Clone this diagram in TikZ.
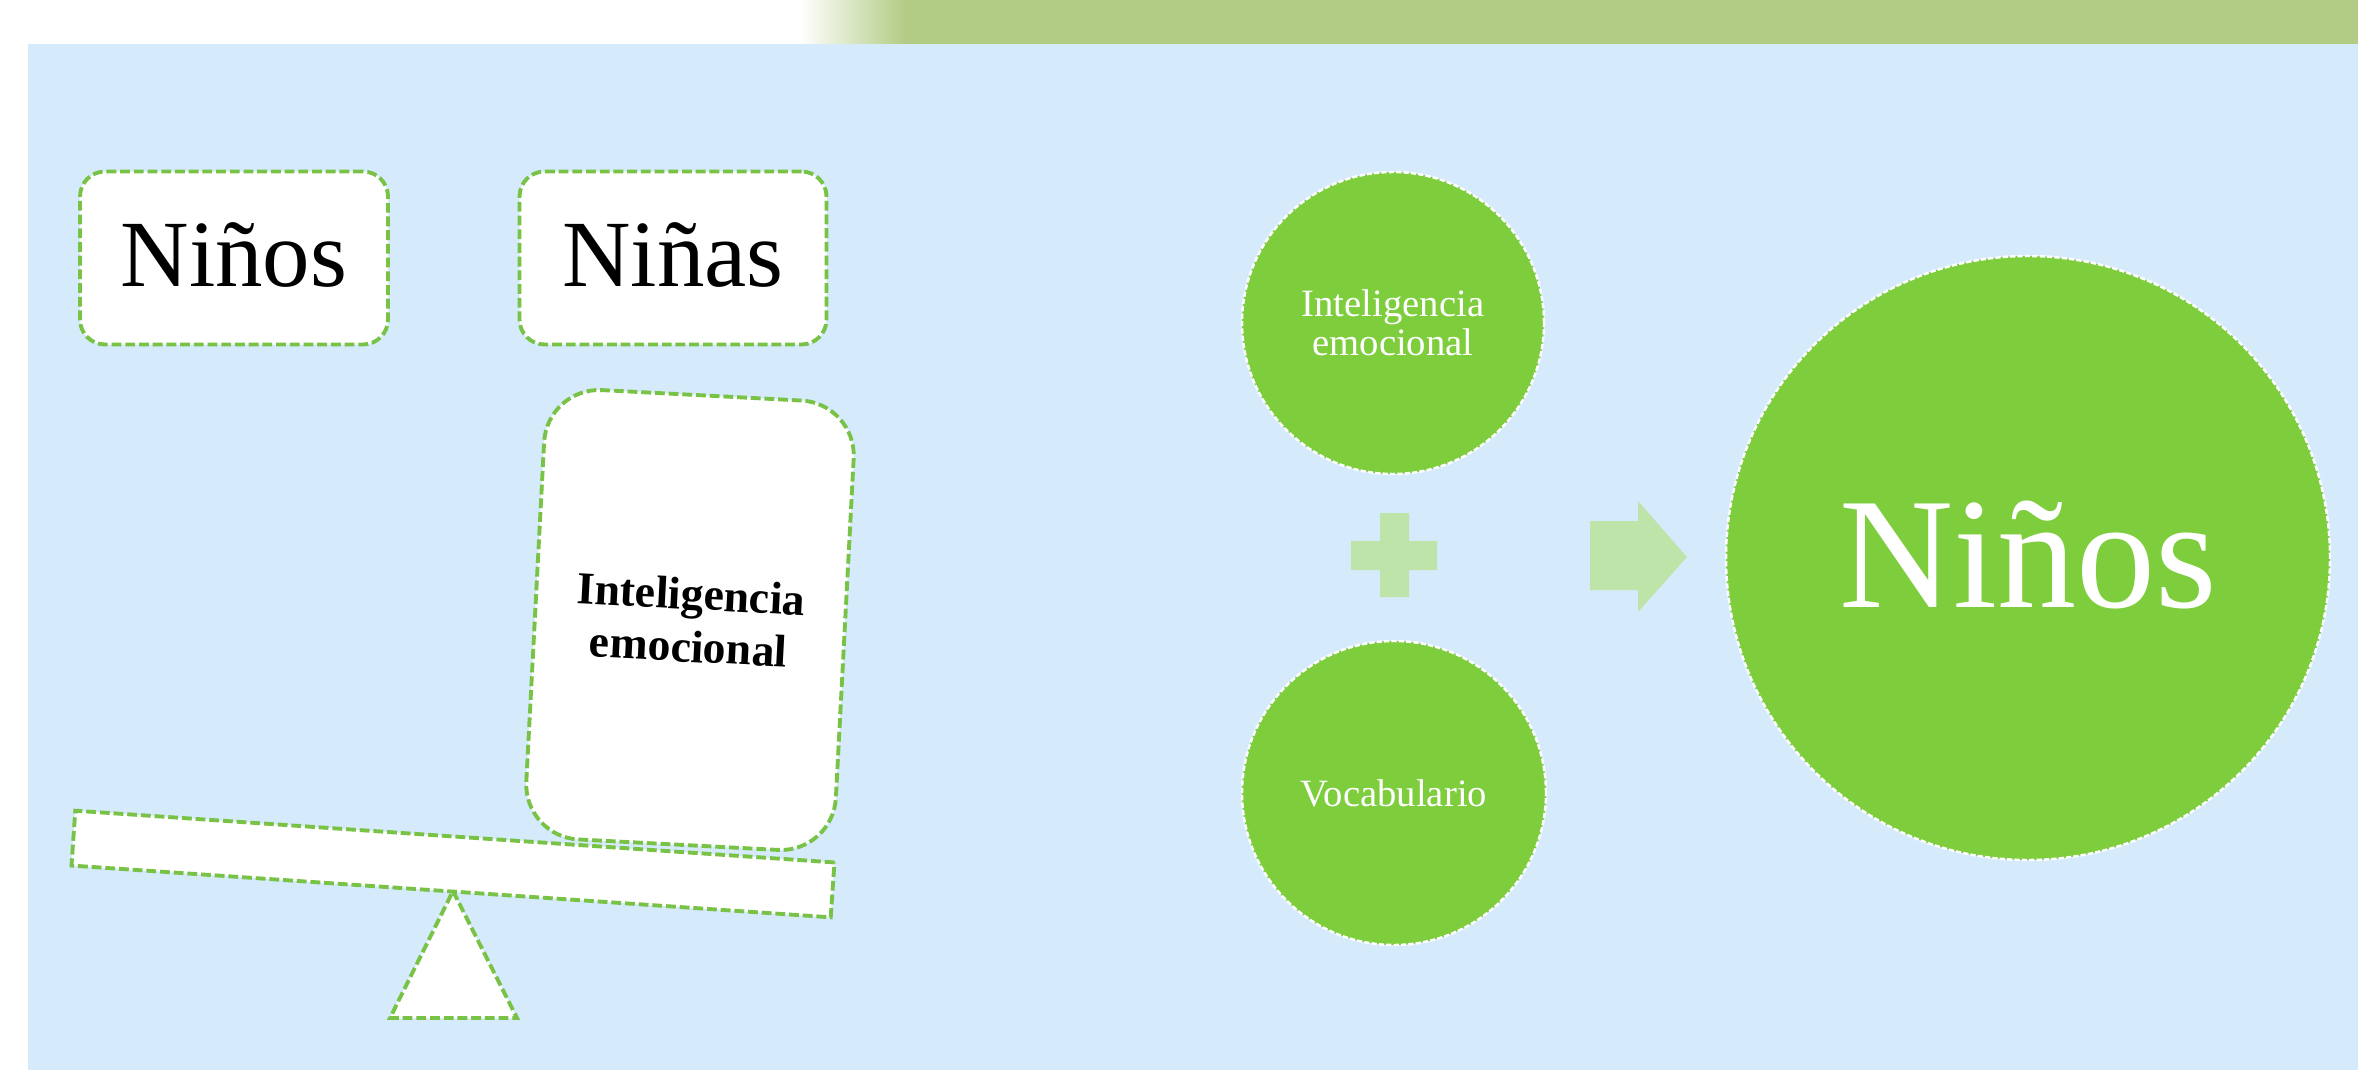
\documentclass[tikz,border=0pt]{standalone}
\usepackage{fontspec}
\setmainfont{Liberation Serif}
\definecolor{fondo}{RGB}{213,234,251}
\definecolor{banda}{RGB}{179,204,133}
\definecolor{verde}{RGB}{125,205,60}
\definecolor{verdeclaro}{RGB}{190,228,170}
\definecolor{borde}{RGB}{120,195,70}
\begin{document}
\begin{tikzpicture}[x=0.1mm,y=-0.1mm]
    \tikzstyle{caja}=[draw=borde,fill=white,line width=1.1pt,dash pattern=on 2.8pt off 1.1pt,rounded corners=2.5mm]
    \tikzstyle{bola}=[circle,draw=white,fill=verde,line width=0.7pt,dash pattern=on 1.5pt off 0.6pt,text=white,align=center]
    \useasboundingbox(0,0)rectangle(2358,1070);
    \fill[white](0,0)rectangle(2358,1070);
    \shade[left color=white,right color=banda](800,0)rectangle(905,44);
    \fill[banda](905,0)rectangle(2358,44);
    \fill[fondo](28,44)rectangle(2358,1070);
    % balanza
    \draw node[caja,minimum width=30.8mm,minimum height=17.3mm,text depth=0.2em,font=\fontsize{27}{30}\selectfont](ninos)at(234,258){Niños}
          node[caja,minimum width=30.7mm,minimum height=17.3mm,text depth=0.2em,font=\fontsize{27}{30}\selectfont](ninas)at(673,258){Niñas};
    \draw[caja,rounded corners=0pt](453,891)--(517,1018)--(390,1018)--cycle;
    \draw node[caja,rounded corners=0pt,rotate=-3.9,minimum width=76.1mm,minimum height=5.5mm](barra)at(453,864){};
    \draw node[caja,rounded corners=5.5mm,rotate=-3,minimum width=31mm,minimum height=45mm,align=center,
               font=\bfseries\fontsize{13}{15}\selectfont](peso)at(690,620){Inteligencia\\emocional};
    % suma
    \draw node[bola,minimum size=30.2mm,font=\fontsize{11}{11.1}\selectfont](emocion)at(1393,323){Inteligencia\\emocional}
          node[bola,minimum size=30.4mm,font=\fontsize{11}{12}\selectfont](vocab)at(1394,793){Vocabulario}
          node[bola,minimum size=60.4mm,text depth=0.2em,font=\fontsize{45}{50}\selectfont](total)at(2028,558){Niños};
    \fill[verdeclaro](1351,541)rectangle(1437,570) (1380,513)rectangle(1409,597);
    \fill[verdeclaro](1590,521)--(1638,521)--(1638,501)--(1687,557)--(1638,612)--(1638,590)--(1590,590)--cycle;
\end{tikzpicture}
\end{document}
